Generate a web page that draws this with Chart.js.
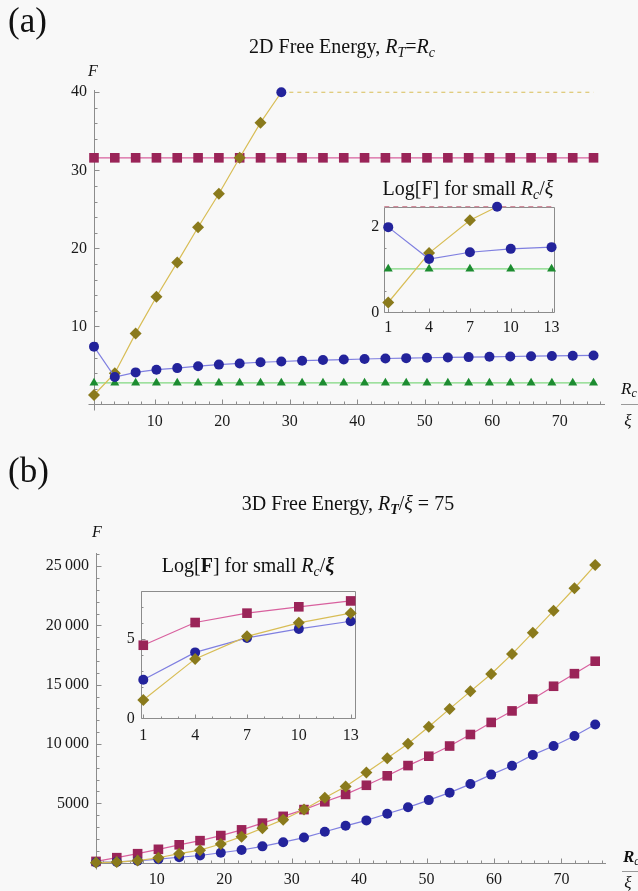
<!DOCTYPE html>
<html><head><meta charset="utf-8">
<script src="https://cdn.jsdelivr.net/npm/chart.js@4.4.0/dist/chart.umd.min.js"></script>
<style>
html,body{margin:0;padding:0;background:#f8f8f8;}
#wrap{position:relative;width:638px;height:891px;overflow:hidden;font-family:'Liberation Serif','Times New Roman',serif;color:#111;}
canvas{position:absolute;}
.t{position:absolute;white-space:nowrap;line-height:1;}
.cc{transform:translate(-50%,-50%);}
.fl{position:absolute;height:0;border-top:1.5px solid #999;}
sub{font-size:70%;vertical-align:-0.25em;}
</style></head><body><div id="wrap">
<canvas id="ca" width="638" height="450" style="left:0;top:0;width:638px;height:450px"></canvas>
<canvas id="cb" width="638" height="441" style="left:0;top:450px;width:638px;height:441px"></canvas>
<canvas id="cai" width="230" height="170" style="left:340px;top:175px;width:230px;height:170px"></canvas>
<canvas id="cbi" width="270" height="175" style="left:100px;top:575px;width:270px;height:175px"></canvas>

<div class="t" style="left:8px;top:3px;font-size:35px">(a)</div>
<div class="t cc" style="left:342px;top:48px;font-size:20px">2D Free Energy, <i>R</i><sub><i>T</i></sub>=<i>R</i><sub><i>c</i></sub></div>
<div class="t cc" style="left:93px;top:71px;font-size:16px"><i>F</i></div>
<div class="t cc" style="left:468px;top:190px;font-size:20px">Log[F] for small <i>R</i><sub><i>c</i></sub>/<i>ξ</i></div>
<div class="t" style="left:621px;top:380px;font-size:17px"><i>R</i><sub><i>c</i></sub></div>
<div class="fl" style="left:621px;top:404px;width:17px"></div>
<div class="t cc" style="left:628px;top:420px;font-size:17px"><i>ξ</i></div>

<div class="t" style="left:8px;top:453px;font-size:35px">(b)</div>
<div class="t cc" style="left:348px;top:505px;font-size:20px">3D Free Energy, <i>R</i><sub><b><i>T</i></b></sub>/<i>ξ</i> = 75</div>
<div class="t cc" style="left:97px;top:532px;font-size:16px"><i>F</i></div>
<div class="t cc" style="left:248px;top:567px;font-size:20px">Log[<b>F</b>] for small <i>R</i><sub><i>c</i></sub>/<b><i>ξ</i></b></div>
<div class="t" style="left:623px;top:848px;font-size:17px"><b><i>R</i></b><sub><i>c</i></sub></div>
<div class="fl" style="left:622px;top:871px;width:16px"></div>
<div class="t cc" style="left:628px;top:882px;font-size:17px"><i>ξ</i></div>
</div>
<script>
// ---------- data ----------
const xsMain = [1, 4.08, 7.17, 10.25, 13.33, 16.42, 19.5, 22.58, 25.67, 28.75, 31.83, 34.92, 38,
  41.08, 44.17, 47.25, 50.33, 53.42, 56.5, 59.58, 62.67, 65.75, 68.83, 71.92, 75];
const xsInset = [1, 4, 7, 10, 13];

// panel (a): 2D free energy
const blueA = [7.4, 3.5, 4.1, 4.45, 4.65, 4.9, 5.1, 5.25, 5.4, 5.5, 5.6, 5.68, 5.75, 5.82, 5.88,
  5.93, 5.98, 6.02, 6.06, 6.1, 6.14, 6.18, 6.21, 6.24, 6.27];
const pinkA = [31.6, 31.6, 31.6, 31.6, 31.6, 31.6, 31.6, 31.6, 31.6, 31.6, 31.6, 31.6, 31.6,
  31.6, 31.6, 31.6, 31.6, 31.6, 31.6, 31.6, 31.6, 31.6, 31.6, 31.6, 31.6];
const greenA = [2.75, 2.75, 2.75, 2.75, 2.75, 2.75, 2.75, 2.75, 2.75, 2.75, 2.75, 2.75, 2.75,
  2.75, 2.75, 2.75, 2.75, 2.75, 2.75, 2.75, 2.75, 2.75, 2.75, 2.75, 2.75];
const diamondA = [1.2, 4.0, 9.1, 13.8, 18.2, 22.7, 27.0, 31.6, 36.1, 40];
const diamondAClipped = [40, 40, 40, 40, 40, 40, 40, 40, 40, 40, 40, 40, 40, 40, 40, 40]; // from 10th point on
// inset (a): Log[F]
const blueAi = [2.0, 1.25, 1.41, 1.49, 1.53];
const greenAi = [1.02, 1.02, 1.02, 1.02, 1.02];
const diamondAiX = [1, 4, 7, 9];
const diamondAi = [0.23, 1.39, 2.16, 2.48];
const pinkAiClipped = 2.48;

// panel (b): 3D free energy
const pinkB = [100, 415, 750, 1120, 1500, 1850, 2280, 2760, 3330, 3900, 4470, 5130, 5750, 6520,
  7320, 8180, 8970, 9830, 10800, 11820, 12790, 13790, 14870, 15930, 16980];
const blueB = [11, 60, 150, 290, 450, 600, 830, 1060, 1370, 1720, 2110, 2600, 3100, 3560, 4120,
  4660, 5270, 5900, 6620, 7420, 8170, 9080, 9830, 10680, 11650];
const diamondB = [3, 42, 174, 408, 750, 1050, 1570, 2190, 2900, 3620, 4470, 5470, 6410, 7600, 8800,
  10030, 11450, 12960, 14440, 15900, 17580, 19390, 21240, 23130, 25090];
// inset (b): Log[F]
const pinkBi = [4.6, 6.03, 6.62, 7.02, 7.39];
const blueBi = [2.43, 4.15, 5.06, 5.63, 6.11];
const diamondBi = [1.15, 3.74, 5.16, 6.01, 6.62];

// ticks
const xTicksMain = [10, 20, 30, 40, 50, 60, 70];
const yTicksA = [10, 20, 30, 40];
const yTicksB = [5000, 10000, 15000, 20000, 25000];
const yLabelsB = ['5000', '10\u2009000', '15\u2009000', '20\u2009000', '25\u2009000'];
const xTicksInset = [1, 4, 7, 10, 13];
const yTicksAi = [0, 2];
const yTicksBi = [0, 5];

// ---------- styles ----------
const M = {
  blue:    {style:'circle',   r:5,   fill:'#23239b', line:'#7f7fe0'},
  pink:    {style:'rect',     r:6.8, fill:'#9a2458', line:'#d8609e'},
  diamond: {style:'rectRot',  r:6,   fill:'#8a7a1c', line:'#d8bd55'},
  green:   {style:'triangle', r:5.2, fill:'#1c8c30', line:'#80d880'}
};
const FONT = {family:"'Liberation Serif','Times New Roman',serif", size:16};

function pts(xs, ys){ return ys.map((y,i)=>({x:xs[i], y:y})); }
function ds(data, m, extra){
  return Object.assign({data:data, showLine:true, borderColor:m.line, borderWidth:1.2,
    pointStyle:m.style, pointRadius:m.r, pointHoverRadius:m.r,
    pointBackgroundColor:m.fill, pointBorderColor:m.fill, pointBorderWidth:0,
    clip:false, tension:0, fill:false}, extra||{});
}

const mmaAxes = {
  id:'mmaAxes',
  beforeDatasetsDraw(chart){
    const o = chart.options.plugins.mmaAxes; if(!o) return;
    const ctx = chart.ctx, a = chart.chartArea, sx = chart.scales.x, sy = chart.scales.y;
    ctx.save(); ctx.strokeStyle = '#8c8c8c'; ctx.lineWidth = 1;
    ctx.beginPath();
    const L = Math.round(a.left)+0.5, B = Math.round(a.bottom)+0.5;
    if(o.frame){
      ctx.rect(L, Math.round(a.top)+0.5, Math.round(a.right-a.left), Math.round(a.bottom)-Math.round(a.top));
    } else {
      ctx.moveTo(L-o.ext, B); ctx.lineTo(a.right, B);
      ctx.moveTo(L, a.top); ctx.lineTo(L, B+o.ext);
    }
    ctx.stroke();
    ctx.beginPath();
    const nx = Math.floor((sx.max - sx.min)/o.xMinor)+2;
    const x0 = Math.ceil(sx.min/o.xMinor);
    for(let k=0;k<nx;k++){
      const v = (x0+k)*o.xMinor; if(v<sx.min-1e-9||v>sx.max+1e-9) continue;
      const major = o.xMajor.some(t=>Math.abs(t-v)<1e-6);
      const px = Math.round(sx.getPixelForValue(v))+0.5;
      ctx.moveTo(px, B); ctx.lineTo(px, B-(major?o.majLen:o.minLen));
    }
    const ny = Math.floor((sy.max - sy.min)/o.yMinor)+2;
    const y0 = Math.ceil(sy.min/o.yMinor);
    for(let k=0;k<ny;k++){
      const v = (y0+k)*o.yMinor; if(v<sy.min-1e-9||v>sy.max+1e-9) continue;
      const major = o.yMajor.some(t=>Math.abs(t-v)<1e-6);
      const py = Math.round(sy.getPixelForValue(v))+0.5;
      ctx.moveTo(L, py); ctx.lineTo(L+(major?o.majLen:o.minLen), py);
    }
    ctx.stroke();
    ctx.restore();
  }
};

function makeChart(id, c){
  return new Chart(document.getElementById(id), {
    type:'scatter',
    data:{datasets:c.datasets},
    plugins:[mmaAxes],
    options:{
      responsive:false, animation:false, events:[],
      layout:{padding:c.pad},
      plugins:{legend:{display:false}, tooltip:{enabled:false}, title:{display:false},
        mmaAxes:c.axes},
      scales:{
        x:{type:'linear', min:c.xMin, max:c.xMax,
          grid:{display:false, drawTicks:false}, border:{display:false},
          afterBuildTicks:s=>{ s.ticks = c.xTicks.map(v=>({value:v})); },
          afterFit:s=>{ s.height = c.xH; },
          ticks:{font:FONT, color:'#1a1a1a', padding:c.xPad, autoSkip:false, maxRotation:0,
            callback:v=>String(v)}},
        y:{type:'linear', min:c.yMin, max:c.yMax,
          grid:{display:false, drawTicks:false}, border:{display:false},
          afterBuildTicks:s=>{ s.ticks = c.yTicks.map(v=>({value:v})); },
          afterFit:s=>{ s.width = c.yW; },
          ticks:{font:FONT, color:'#1a1a1a', padding:c.yPad, autoSkip:false,
            callback:c.yLabel || (v=>String(v))}}
      }
    }
  });
}

// ---------- panel (a) ----------
makeChart('ca', {
  datasets:[
    ds(pts(xsMain.slice(9), diamondAClipped), M.diamond, {borderDash:[4,4], pointRadius:0, order:6}),
    ds(pts(xsMain, greenA), M.green, {order:5}),
    ds(pts(xsMain, pinkA), M.pink, {order:4}),
    ds(pts(xsMain, diamondA), M.diamond, {order:3,
      pointRadius:ctx=>ctx.dataIndex===diamondA.length-1?0:M.diamond.r}),
    ds(pts(xsMain, blueA), M.blue, {order:2}),
    ds(pts([xsMain[diamondA.length-1]], [diamondA[diamondA.length-1]]), M.blue, {showLine:false, order:1})
  ],
  xMin:1, xMax:76.7, yMin:0, yMax:40.29,
  xTicks:xTicksMain, yTicks:yTicksA,
  pad:{left:34, right:33, top:90, bottom:15.6}, yW:60, xH:30, xPad:8, yPad:7,
  axes:{frame:false, ext:6, xMinor:2, yMinor:2, xMajor:xTicksMain, yMajor:yTicksA, majLen:5, minLen:3}
});

// ---------- inset (a) ----------
makeChart('cai', {
  datasets:[
    ds([{x:0.71, y:pinkAiClipped},{x:13.2, y:pinkAiClipped}], M.pink, {borderColor:'#d08a9a', borderDash:[5,4], pointRadius:0, order:6}),
    ds(pts(xsInset, greenAi), M.green, {order:5}),
    ds(pts(diamondAiX, diamondAi), M.diamond, {order:3,
      pointRadius:ctx=>ctx.dataIndex===diamondAi.length-1?0:M.diamond.r}),
    ds(pts(xsInset, blueAi), M.blue, {order:2}),
    ds(pts([diamondAiX[diamondAiX.length-1]], [diamondAi[diamondAi.length-1]]), M.blue, {showLine:false, order:1})
  ],
  xMin:0.71, xMax:13.2, yMin:0, yMax:2.48,
  xTicks:xTicksInset, yTicks:yTicksAi,
  pad:{left:14.3, right:15.7, top:31.7, bottom:7.7}, yW:30, xH:25, xPad:6, yPad:5,
  axes:{frame:true, ext:0, xMinor:1, yMinor:0.5, xMajor:xTicksInset, yMajor:yTicksAi, majLen:4, minLen:2}
});

// ---------- panel (b) ----------
makeChart('cb', {
  datasets:[
    ds(pts(xsMain, pinkB), M.pink, {order:3}),
    ds(pts(xsMain, blueB), M.blue, {order:2}),
    ds(pts(xsMain, diamondB), M.diamond, {order:1})
  ],
  xMin:1, xMax:76.6, yMin:0, yMax:26105,
  xTicks:xTicksMain, yTicks:yTicksB,
  yLabel:v=>yLabelsB[yTicksB.indexOf(v)],
  pad:{left:36, right:32, top:103, bottom:3.4}, yW:60, xH:25, xPad:8, yPad:7,
  axes:{frame:false, ext:6, xMinor:2, yMinor:1000, xMajor:xTicksMain, yMajor:yTicksB, majLen:5, minLen:3}
});

// ---------- inset (b) ----------
makeChart('cbi', {
  datasets:[
    ds(pts(xsInset, pinkBi), M.pink, {order:3}),
    ds(pts(xsInset, blueBi), M.blue, {order:2}),
    ds(pts(xsInset, diamondBi), M.diamond, {order:1})
  ],
  xMin:0.85, xMax:13.25, yMin:0, yMax:8.04,
  xTicks:xTicksInset, yTicks:yTicksBi,
  pad:{left:12.7, right:15, top:11, bottom:6.7}, yW:28, xH:25, xPad:8, yPad:6,
  axes:{frame:true, ext:0, xMinor:1, yMinor:1, xMajor:xTicksInset, yMajor:yTicksBi, majLen:4, minLen:2}
});
</script>
</body></html>
